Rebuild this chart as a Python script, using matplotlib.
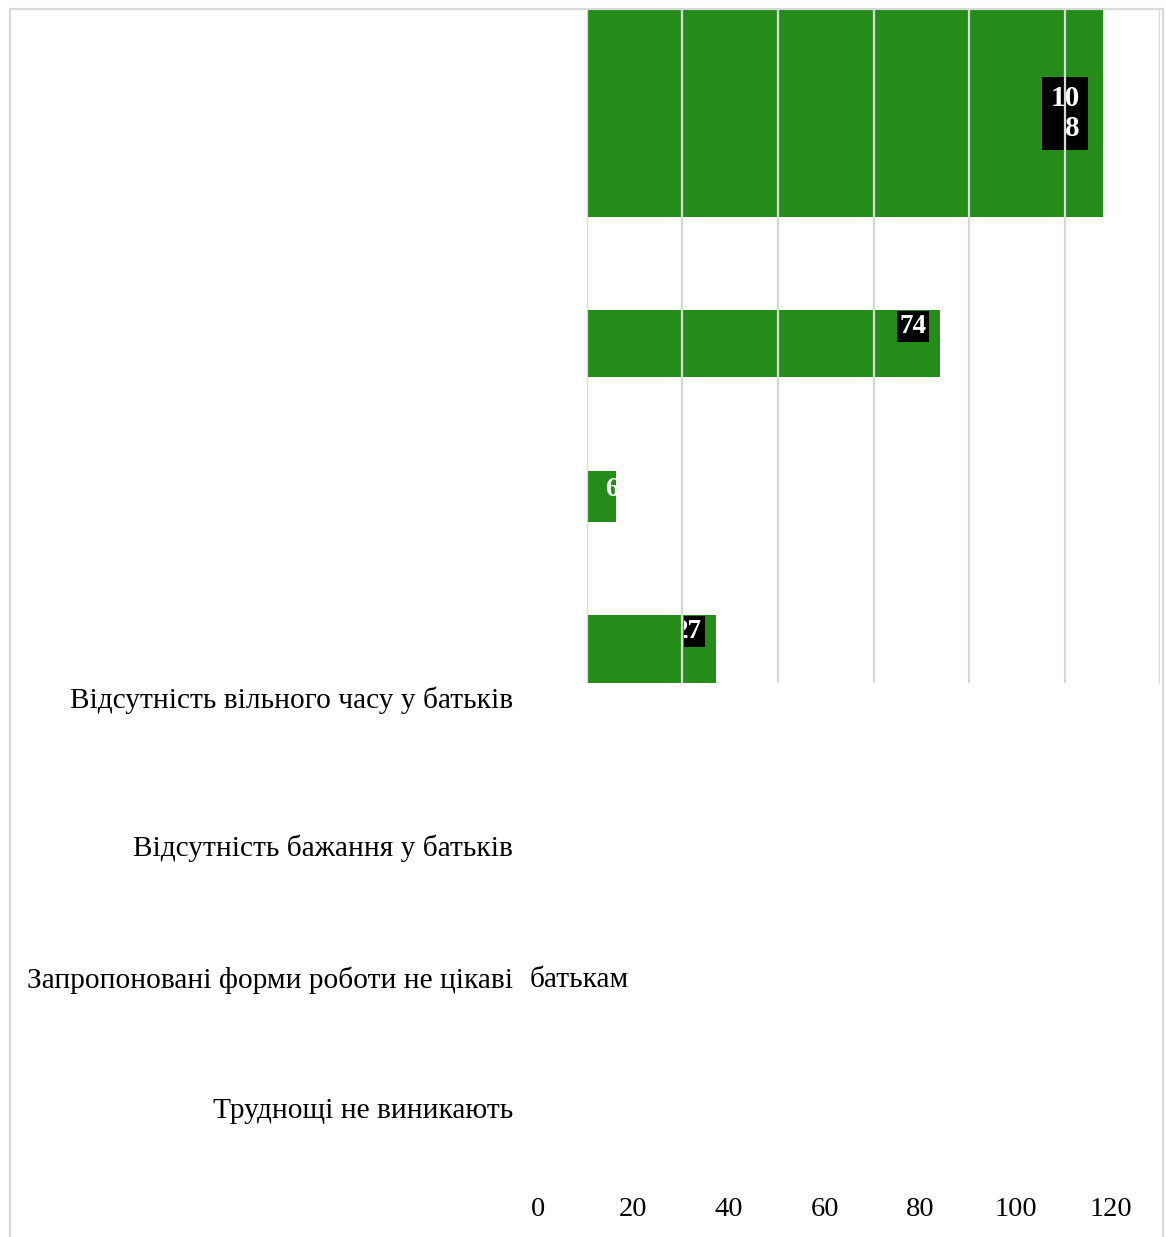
import textwrap
import matplotlib
matplotlib.use('Agg')
import matplotlib.pyplot as plt
from matplotlib.patches import Rectangle
from matplotlib.transforms import (blended_transform_factory, ScaledTranslation,
                                   Bbox, TransformedBbox)

plt.rcParams['font.family'] = ['Liberation Serif', 'DejaVu Serif']

# data
categories = ['Відсутність вільного часу у батьків',
              'Відсутність бажання у батьків',
              'Запропоновані форми роботи не цікаві батькам',
              'Труднощі не виникають']
values = [108, 74, 6, 27]
ticks = [0, 20, 40, 60, 80, 100, 120]

# layout (figure pixels, 1166 x 1237 canvas)
W, H = 1166, 1237
bar_center = [113.5, 343.5, 496.5, 649]   # y of each bar inside the plot box
bar_thick = [207, 67, 51, 68]
label_y = [113.5, 326.5, 490, 631.5]
label_dx = [-23, -14, 3, -14]             # px from bar end
label_pad = [0.28, 0.1, 0, 0.1]
label_fs = [21, 19.5, 19.5, 19.5]
label_box = [True, True, False, True]
label_clip_x0 = [0, 0, 0, 20.4]           # labels are cut off left of this
cat_y = [700, 848, 980, 1111]
cat_fs = 21.2
tick_fs = 20.5
green = '#248c18'
grid_c = '#d9d9d9'

fig = plt.figure(figsize=(W / 100, H / 100), dpi=100)
ax = fig.add_axes([587 / W, 1 - 683 / H, (1160 - 587) / W, (683 - 10) / H])
ax.set_xlim(0, 120)
ax.set_ylim(683, 10)
for s in ax.spines.values():
    s.set_visible(False)
ax.set_xticks([]); ax.set_yticks([])
ax.patch.set_alpha(0)

bars = ax.barh(bar_center, values, height=bar_thick, color=green, zorder=2)
ax.vlines(ticks, 10, 683, colors=grid_c, lw=1.6, zorder=3)

for i, v in enumerate(values):
    txt = textwrap.fill(str(v), 2)
    off = ScaledTranslation(label_dx[i] / 100, 0, fig.dpi_scale_trans)
    kw = {}
    if label_box[i]:
        kw['bbox'] = dict(boxstyle='square,pad=%.2f' % label_pad[i],
                          fc='black', ec='none')
    t = ax.text(v, label_y[i], txt, transform=ax.transData + off,
                ha='right', va='center', ma='right', color='white',
                fontsize=label_fs[i], fontweight='bold', linespacing=1.15,
                zorder=2.5, **kw)
    # labels only show inside their bar
    top = bar_center[i] - bar_thick[i] / 2
    bb = TransformedBbox(Bbox.from_extents(label_clip_x0[i], top, v,
                                           top + bar_thick[i]), ax.transData)
    t.set_clip_box(bb)
    t.set_clip_on(True)
    if t.get_bbox_patch() is not None:
        t.get_bbox_patch().set_clip_box(bb)
        t.get_bbox_patch().set_clip_on(True)

# category labels sit below the plot box (broken layout of the original)
for name, y in zip(categories, cat_y):
    fy = 1 - y / H
    if len(name) > 40:
        head, tail = name.rsplit(' ', 1)
        fig.text(513 / W, fy, head, ha='right', va='center', fontsize=cat_fs)
        fig.text(530 / W, fy, tail, ha='left', va='center', fontsize=cat_fs)
    else:
        fig.text(513 / W, fy, name, ha='right', va='center', fontsize=cat_fs)

# x tick labels, shifted left from their gridlines
tr = blended_transform_factory(ax.transData, fig.transFigure) + \
    ScaledTranslation(-49 / 100, 0, fig.dpi_scale_trans)
for tk in ticks:
    fig.text(tk, 1 - 1209 / H, str(tk), transform=tr, ha='center',
             va='center', fontsize=tick_fs)

# outer frame
fig.add_artist(Rectangle((10 / W, -0.05), (1163 - 10) / W, 1 - 9 / H + 0.05,
                         transform=fig.transFigure, fill=False,
                         ec=grid_c, lw=1.6))

fig.savefig('out.png', dpi=100)
